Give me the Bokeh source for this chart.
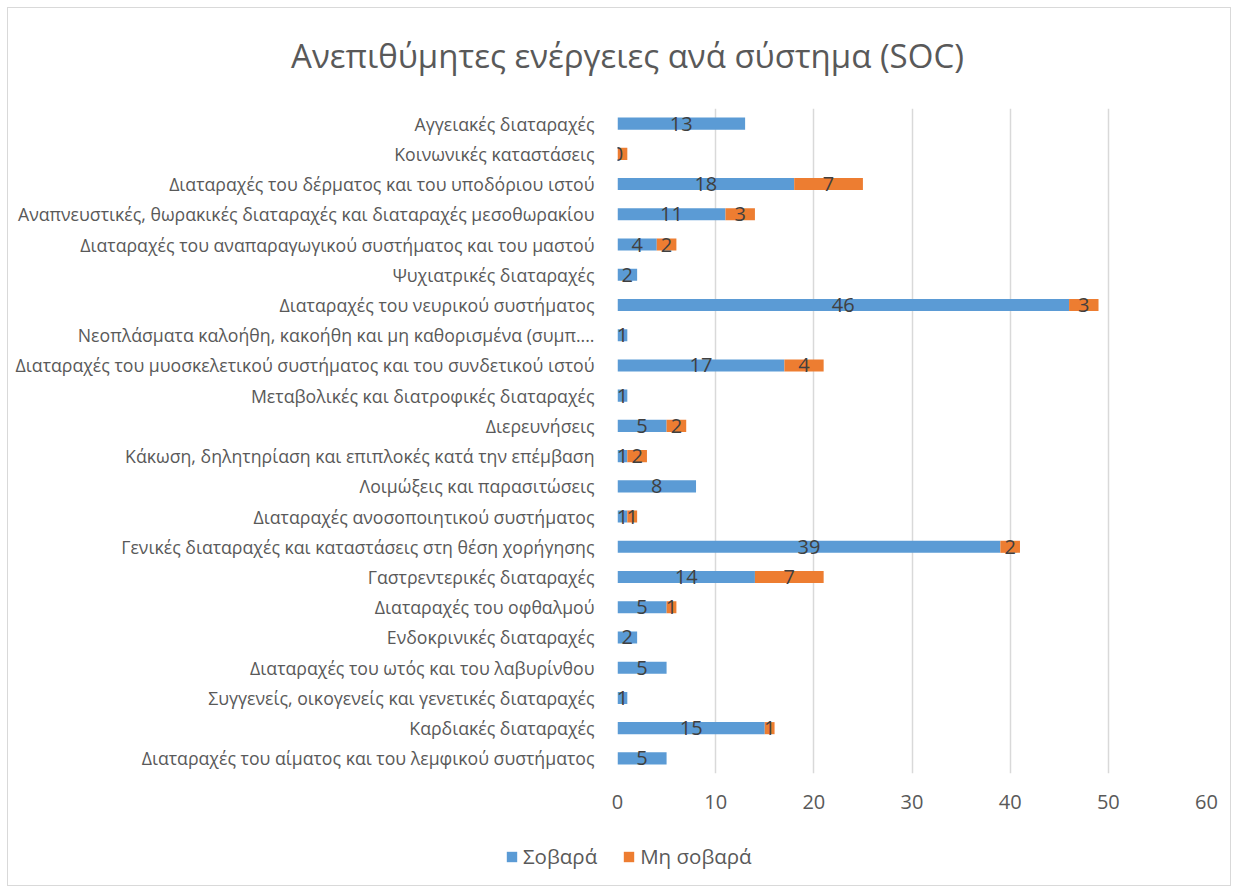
from bokeh.plotting import figure
from bokeh.layouts import column
from bokeh.models import (FactorRange, ColumnDataSource, Legend, LegendItem,
                          FixedTicker, Range1d)
from bokeh.embed import file_html
from bokeh.resources import INLINE
from bokeh.core.properties import value

categories = [
    "Αγγειακές διαταραχές",
    "Κοινωνικές καταστάσεις",
    "Διαταραχές του δέρματος και του υποδόριου ιστού",
    "Αναπνευστικές, θωρακικές διαταραχές και διαταραχές μεσοθωρακίου",
    "Διαταραχές του αναπαραγωγικού συστήματος και του μαστού",
    "Ψυχιατρικές διαταραχές",
    "Διαταραχές του νευρικού συστήματος",
    "Νεοπλάσματα καλοήθη, κακοήθη και μη καθορισμένα (συμπ....",
    "Διαταραχές του μυοσκελετικού συστήματος και του συνδετικού ιστού",
    "Μεταβολικές και διατροφικές διαταραχές",
    "Διερευνήσεις",
    "Κάκωση, δηλητηρίαση και επιπλοκές κατά την επέμβαση",
    "Λοιμώξεις και παρασιτώσεις",
    "Διαταραχές ανοσοποιητικού συστήματος",
    "Γενικές διαταραχές και καταστάσεις στη θέση χορήγησης",
    "Γαστρεντερικές διαταραχές",
    "Διαταραχές του οφθαλμού",
    "Ενδοκρινικές διαταραχές",
    "Διαταραχές του ωτός και του λαβυρίνθου",
    "Συγγενείς, οικογενείς και γενετικές διαταραχές",
    "Καρδιακές διαταραχές",
    "Διαταραχές του αίματος και του λεμφικού συστήματος",
]
serious = [13, 0, 18, 11, 4, 2, 46, 1, 17, 1, 5, 1, 8, 1, 39, 14, 5, 2, 5, 1, 15, 5]
non_serious = [None, 1, 7, 3, 2, None, 3, None, 4, None, 2, 2, None, 1, 2, 7, 1, None, None, None, 1, None]
# orange data label that is not shown in the original (Κοινωνικές καταστάσεις)
non_serious_label_hidden = ["Κοινωνικές καταστάσεις"]
x_ticks = [0, 10, 20, 30, 40, 50, 60]
series_names = ["Σοβαρά", "Μη σοβαρά"]
title_text = "Ανεπιθύμητες ενέργειες ανά σύστημα (SOC)"

BLUE = "#5B9BD5"
ORANGE = "#ED7D31"
TXT = "#595959"
LBL = "#404040"
FONT = "Open Sans"

W = 1222
TITLE_H = 80
LEGEND_H = 55
LEFT, RIGHT, TOP, BOTTOM = 609, 24, 20, 57
FRAME_H = 665
MAIN_H = TOP + FRAME_H + BOTTOM


def bare(fig):
    fig.outline_line_color = None
    fig.background_fill_color = "white"
    fig.border_fill_color = "white"
    fig.axis.visible = False
    fig.grid.visible = False
    return fig


# ---- title strip
pt = bare(figure(width=W, height=TITLE_H, output_backend="svg", toolbar_location=None,
                 x_range=Range1d(0, W), y_range=Range1d(0, TITLE_H),
                 min_border=0, frame_align=False))
pt.text(x=[619], y=[TITLE_H - 47], text=[title_text], text_align="center",
        text_baseline="middle", text_font=value(FONT), text_font_size="33px",
        text_color=TXT)

# ---- main chart
p = figure(width=W, height=MAIN_H, output_backend="svg", toolbar_location=None,
           y_range=FactorRange(*reversed(categories), range_padding=0),
           x_range=Range1d(0, 60),
           min_border_left=LEFT, min_border_right=RIGHT,
           min_border_top=TOP, min_border_bottom=BOTTOM)
p.outline_line_color = None
p.background_fill_color = "white"
p.border_fill_color = "white"

ns_vals = [v if v is not None else 0 for v in non_serious]
src = ColumnDataSource(dict(
    cat=categories,
    s=serious,
    ns_left=serious,
    ns_right=[a + b for a, b in zip(serious, ns_vals)],
))

p.hbar(y="cat", left=0, right="s", height=0.4, source=src,
       fill_color=BLUE, line_color=None)
p.hbar(y="cat", left="ns_left", right="ns_right", height=0.4, source=src,
       fill_color=ORANGE, line_color=None)

lx, ly, lt = [], [], []
for c, s, ns in zip(categories, serious, non_serious):
    lx.append(s / 2); ly.append(c); lt.append(str(s))
    if ns is not None and c not in non_serious_label_hidden:
        lx.append(s + ns / 2); ly.append(c); lt.append(str(ns))
lsrc = ColumnDataSource(dict(x=lx, y=ly, t=lt))
p.text(x="x", y="y", text="t", source=lsrc, text_align="center",
       text_baseline="middle", text_font=value(FONT), text_font_size="20px",
       text_color=LBL)

p.xaxis.ticker = FixedTicker(ticks=x_ticks)
p.xaxis.axis_line_color = None
p.xaxis.major_tick_line_color = None
p.xaxis.minor_tick_line_color = None
p.xaxis.major_label_text_font = FONT
p.xaxis.major_label_text_font_size = "20px"
p.xaxis.major_label_text_color = TXT
p.xaxis.major_label_standoff = 15

p.yaxis.axis_line_color = None
p.yaxis.major_tick_line_color = None
p.yaxis.minor_tick_line_color = None
p.yaxis.major_label_text_font = FONT
p.yaxis.major_label_text_font_size = "17.7px"
p.yaxis.major_label_text_color = TXT
p.yaxis.major_label_standoff = 17

p.ygrid.grid_line_color = None
p.xgrid.grid_line_color = "#d9d9d9"
p.xgrid.grid_line_width = 1.5

# ---- legend strip (swatch renderers sit outside the visible range)
pl = bare(figure(width=W, height=LEGEND_H, output_backend="svg", toolbar_location=None,
                 x_range=Range1d(0, 1), y_range=Range1d(0, 1), min_border=0,
                 frame_align=False))
lr1 = pl.rect(x=[-10], y=[-10], width=1, height=1, fill_color=BLUE, line_color=None)
lr2 = pl.rect(x=[-10], y=[-10], width=1, height=1, fill_color=ORANGE, line_color=None)
legend = Legend(items=[LegendItem(label=series_names[0], renderers=[lr1]),
                       LegendItem(label=series_names[1], renderers=[lr2])],
                orientation="horizontal", location=(497, 15),
                label_text_font=FONT, label_text_font_size="20.5px",
                label_text_color=TXT, glyph_width=13, glyph_height=13,
                padding=0, margin=0, spacing=25, label_standoff=5,
                border_line_color=None, background_fill_alpha=0)
pl.add_layout(legend, "center")

layout = column(pt, p, pl, spacing=0,
                styles={"border": "1px solid #d9d9d9", "margin-left": "7px",
                        "margin-top": "7px"})

open("out.html", "w").write(file_html(layout, INLINE))
